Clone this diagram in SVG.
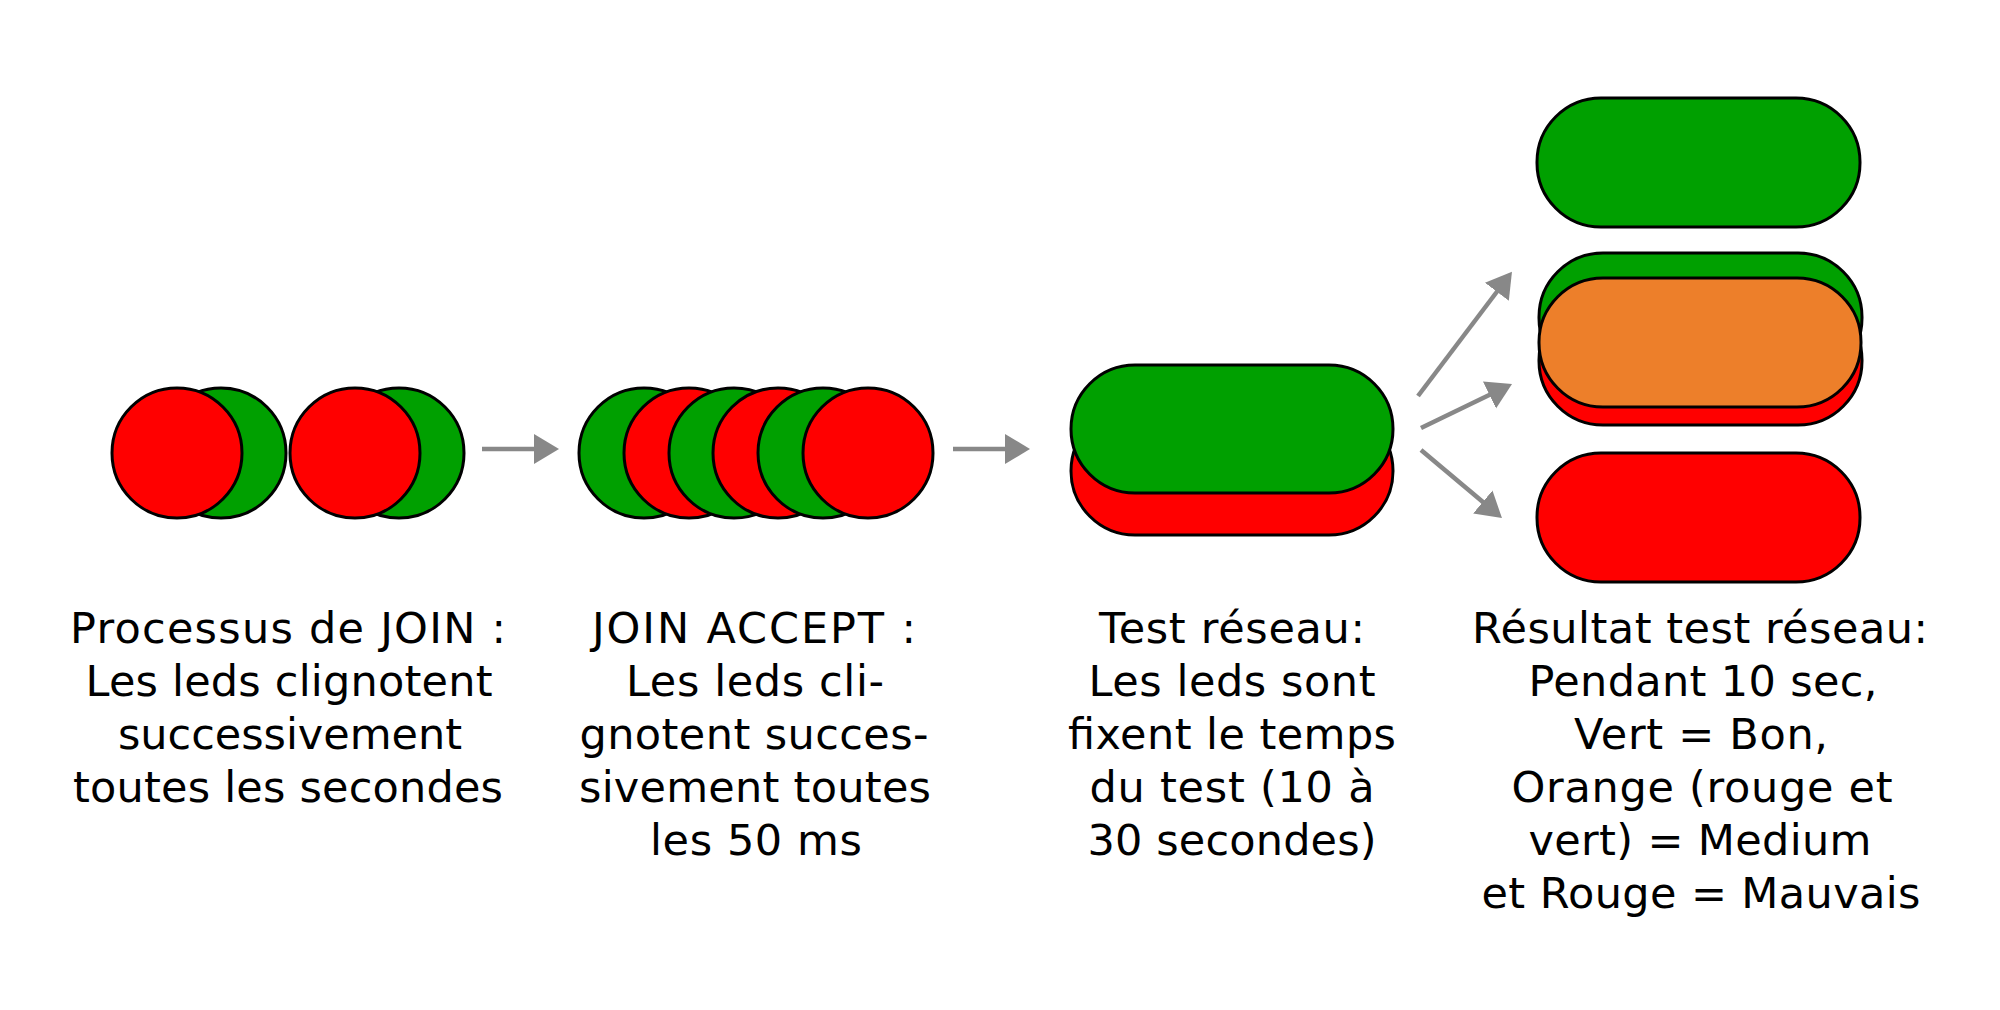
<svg xmlns="http://www.w3.org/2000/svg" width="2000" height="1010" viewBox="0 0 2000 1010">
<style>
.led{stroke:#000;stroke-width:3}
.g{fill:#00a000}
.r{fill:#ff0000}
.o{fill:#ed7f2a}
.lbl{font-family:"DejaVu Sans","Liberation Sans",sans-serif;font-size:43px;fill:#000;text-anchor:middle}
.arr{stroke:#888;stroke-width:4.5;fill:none;marker-end:url(#ah)}
</style>
<defs>
<marker id="ah" markerUnits="userSpaceOnUse" markerWidth="32" markerHeight="34" viewBox="0 -17 32 34" refX="6" refY="0" orient="auto">
<path d="M0,-15 L25,0 L0,15 z" fill="#888"/>
</marker>
</defs>
<rect width="2000" height="1010" fill="#fff"/>
<g id="join">
<circle class="led g" cx="221" cy="453" r="65"/>
<circle class="led r" cx="177" cy="453" r="65"/>
<circle class="led g" cx="399" cy="453" r="65"/>
<circle class="led r" cx="355" cy="453" r="65"/>
</g>
<g id="join-accept">
<circle class="led g" cx="644" cy="453" r="65"/>
<circle class="led r" cx="689" cy="453" r="65"/>
<circle class="led g" cx="734" cy="453" r="65"/>
<circle class="led r" cx="778" cy="453" r="65"/>
<circle class="led g" cx="823" cy="453" r="65"/>
<circle class="led r" cx="868" cy="453" r="65"/>
</g>
<g id="test-reseau">
<rect class="led r" x="1071" y="407" width="322" height="128" rx="64" ry="64"/>
<rect class="led g" x="1071" y="365" width="322" height="128" rx="64" ry="64"/>
</g>
<g id="result-good">
<rect class="led g" x="1537" y="98" width="323" height="129" rx="64" ry="64"/>
</g>
<g id="result-medium">
<rect class="led g" x="1539" y="253" width="323" height="129" rx="64" ry="64"/>
<rect class="led r" x="1539" y="296" width="323" height="129" rx="64" ry="64"/>
<rect class="led o" x="1539" y="278" width="322" height="129" rx="64" ry="64"/>
</g>
<g id="result-bad">
<rect class="led r" x="1537" y="453" width="323" height="129" rx="64" ry="64"/>
</g>
<g id="connectors">
<line class="arr" x1="482" y1="449" x2="540" y2="449"/>
<line class="arr" x1="953" y1="449" x2="1011" y2="449"/>
<line class="arr" x1="1418" y1="396" x2="1500.5" y2="287"/>
<line class="arr" x1="1421" y1="428" x2="1494.9" y2="392.3"/>
<line class="arr" x1="1421" y1="450" x2="1487.4" y2="505.8"/>
</g>
<g id="label-join">
<text class="lbl" x="288" y="643" textLength="436" lengthAdjust="spacing">Processus de JOIN :</text>
<text class="lbl" x="289" y="696" textLength="407" lengthAdjust="spacing">Les leds clignotent</text>
<text class="lbl" x="290" y="749" textLength="344" lengthAdjust="spacing">successivement</text>
<text class="lbl" x="288" y="802" textLength="430" lengthAdjust="spacing">toutes les secondes</text>
</g>
<g id="label-join-accept">
<text class="lbl" x="754" y="643" textLength="324" lengthAdjust="spacing">JOIN ACCEPT :</text>
<text class="lbl" x="755" y="696" textLength="258" lengthAdjust="spacing">Les leds cli-</text>
<text class="lbl" x="754" y="749" textLength="349" lengthAdjust="spacing">gnotent succes-</text>
<text class="lbl" x="755" y="802" textLength="352" lengthAdjust="spacing">sivement toutes</text>
<text class="lbl" x="756" y="855" textLength="212" lengthAdjust="spacing">les 50 ms</text>
</g>
<g id="label-test">
<text class="lbl" x="1232" y="643" textLength="266" lengthAdjust="spacing">Test réseau:</text>
<text class="lbl" x="1232" y="696" textLength="287" lengthAdjust="spacing">Les leds sont</text>
<text class="lbl" x="1232" y="749" textLength="328" lengthAdjust="spacing">fixent le temps</text>
<text class="lbl" x="1232" y="802" textLength="285" lengthAdjust="spacing">du test (10 à</text>
<text class="lbl" x="1232" y="855" textLength="289" lengthAdjust="spacing">30 secondes)</text>
</g>
<g id="label-result">
<text class="lbl" x="1700" y="643" textLength="456" lengthAdjust="spacing">Résultat test réseau:</text>
<text class="lbl" x="1703" y="696" textLength="349" lengthAdjust="spacing">Pendant 10 sec,</text>
<text class="lbl" x="1701" y="749" textLength="254" lengthAdjust="spacing">Vert = Bon,</text>
<text class="lbl" x="1702" y="802" textLength="381" lengthAdjust="spacing">Orange (rouge et</text>
<text class="lbl" x="1700" y="855" textLength="343" lengthAdjust="spacing">vert) = Medium</text>
<text class="lbl" x="1701" y="908" textLength="439" lengthAdjust="spacing">et Rouge = Mauvais</text>
</g>
</svg>
